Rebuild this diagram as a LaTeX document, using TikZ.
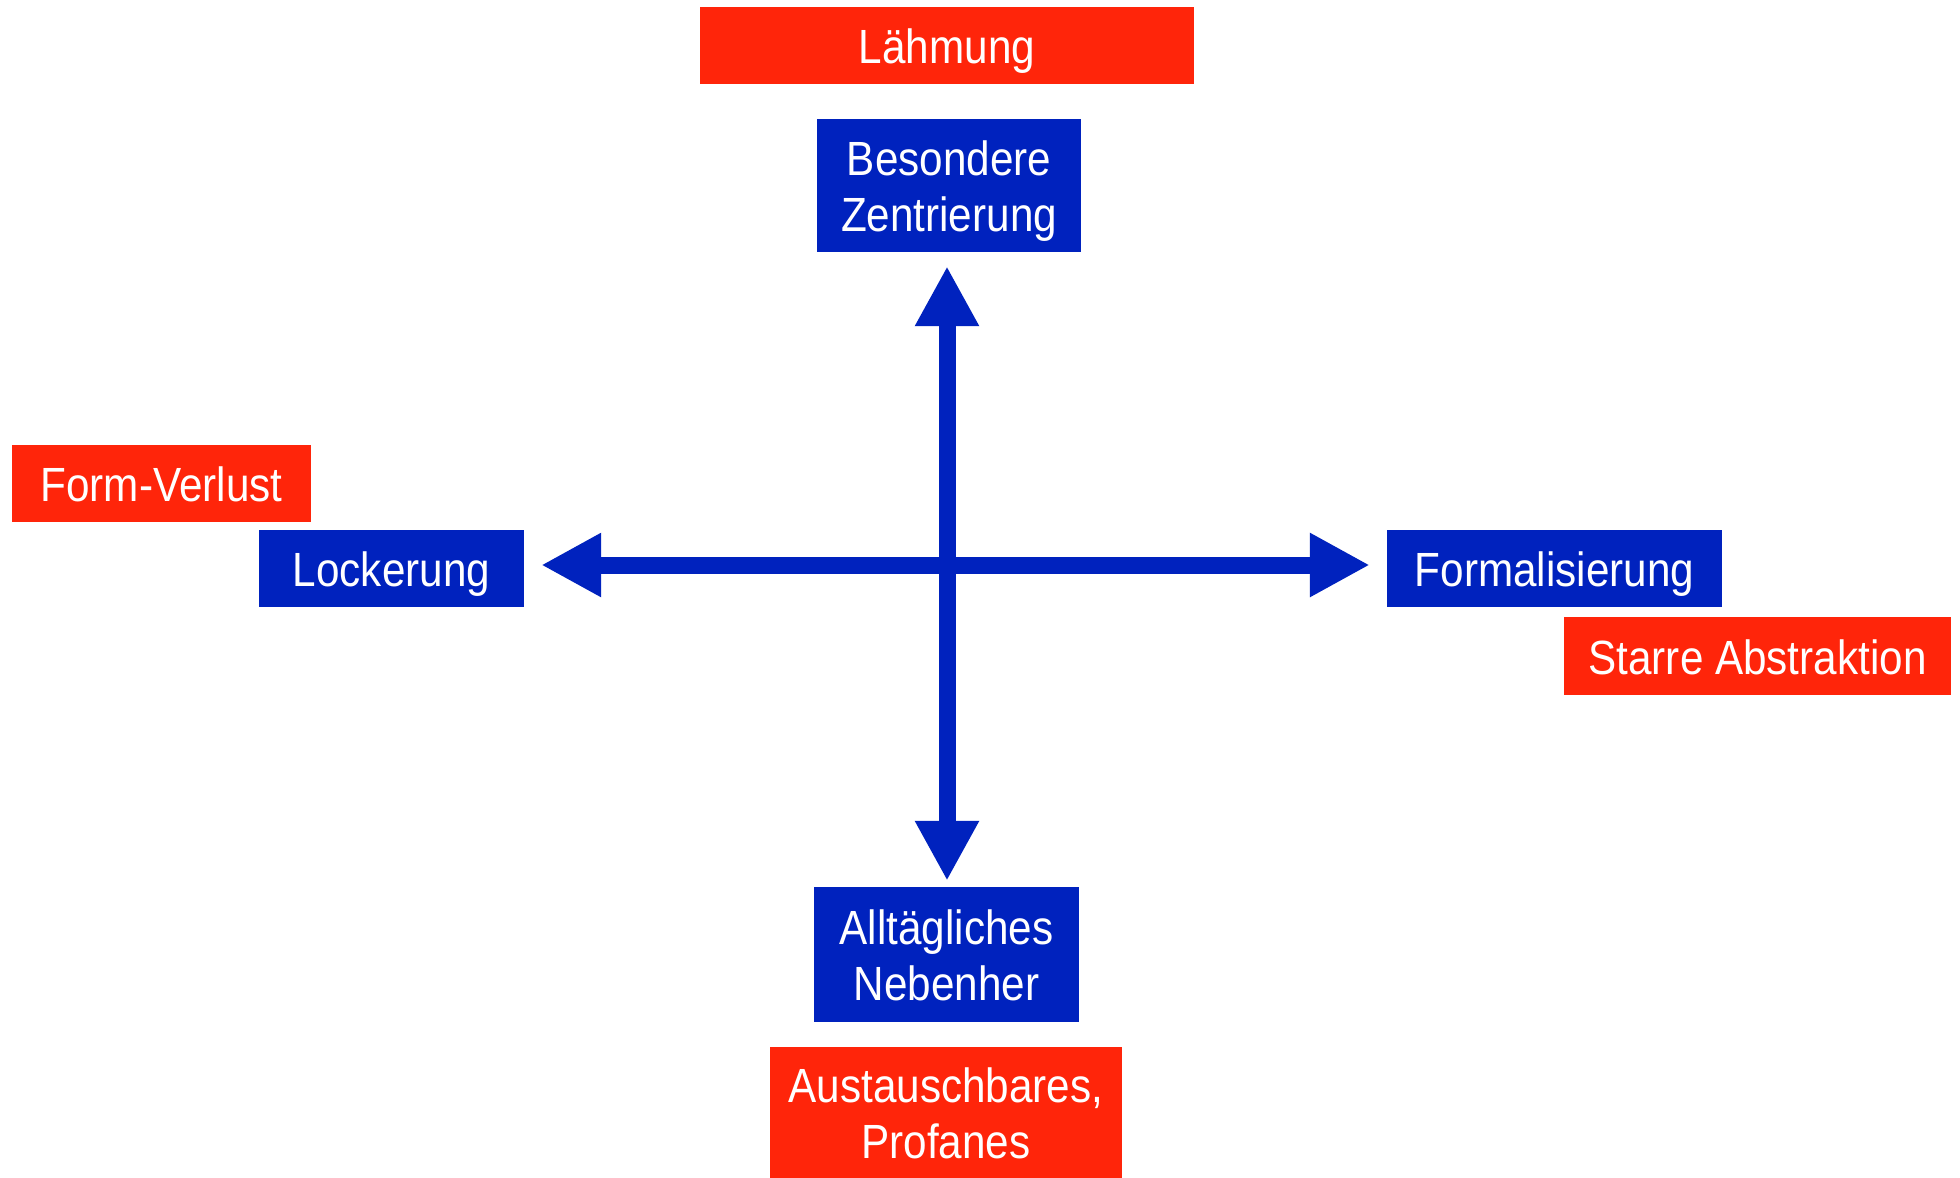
\documentclass[tikz,border=0pt]{standalone}
\usepackage{fontspec}
\setmainfont{Liberation Sans}[FakeStretch=0.88]
\usetikzlibrary{arrows.meta}
\definecolor{poleblue}{RGB}{0,34,190}
\definecolor{riskred}{RGB}{255,37,10}
% two-or-one line label, lowered a little inside its box
\newcommand{\boxlabel}[1]{\raisebox{-7pt}[\height][\depth]{\begin{tabular}{@{}c@{}}#1\end{tabular}}}
\tikzset{
  labelbox/.style={rectangle, inner sep=0pt, text=white,
    font=\fontsize{48}{56}\selectfont},
  pole/.style={labelbox, fill=poleblue},
  risk/.style={labelbox, fill=riskred},
  axis/.style={draw=poleblue, line width=17pt,
    {Triangle[width=60pt 0 0,length=60pt 0 0]}-{Triangle[width=60pt 0 0,length=60pt 0 0]}}
}
\begin{document}
\begin{tikzpicture}[x=1pt,y=-1pt]
  \useasboundingbox (0,0) rectangle (1960,1178);

  % poles
  \node[pole, minimum width=264pt, minimum height=133pt] (bz) at (949,185.5) {\boxlabel{Besondere\\Zentrierung}};
  \node[pole, minimum width=265pt, minimum height=135pt] (allt) at (946.5,954.5) {\boxlabel{Alltägliches\\Nebenher}};
  \node[pole, minimum width=265pt, minimum height=77pt] (lock) at (391.5,568.5) {\boxlabel{Lockerung}};
  \node[pole, minimum width=335pt, minimum height=77pt] (formal) at (1554.5,568.5) {\boxlabel{Formalisierung}};

  % excesses of each pole
  \node[risk, minimum width=494pt, minimum height=77pt] (lahm) at (947,45.5) {\boxlabel{Lähmung}};
  \node[risk, minimum width=299pt, minimum height=77pt] (fv) at (161.5,483.5) {\boxlabel{Form-Verlust}};
  \node[risk, minimum width=387pt, minimum height=78pt] (starr) at (1757.5,656) {\boxlabel{Starre Abstraktion}};
  \node[risk, minimum width=352pt, minimum height=131pt] (aus) at (946,1112.5) {\boxlabel{Austauschbares,\\Profanes}};

  % crossing axes
  \coordinate (c) at (947,565);
  \draw[axis] ([yshift=-14pt]c |- bz.south) -- ([yshift=6pt]c |- allt.north);
  \draw[axis] ([xshift=17pt]c -| lock.east) -- ([xshift=-17pt]c -| formal.west);
\end{tikzpicture}
\end{document}
